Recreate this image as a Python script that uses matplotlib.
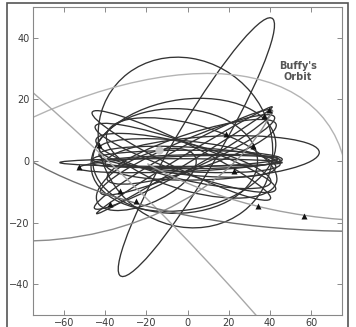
import matplotlib
matplotlib.use("Agg")
import matplotlib.pyplot as plt
from matplotlib.patches import Ellipse, Arc, Rectangle

# closed orbits: centre, full width/height (data units), tilt in degrees
orb_cx = [4.3, -1, 12, -3, -1, -2, -1.5, -2, -6, 0, -1, 1, -8, -4, 0, 0, 2, -2, -20, 2]
orb_cy = [4.5, 6, 1, 1.8, 1, 0.5, 0.25, 2, 0, 0.5, 0, 0.5, -0.5, -1, 1, 2, 3, 0, -6, 1]
orb_w = [111.6, 85, 104, 91, 90, 92, 92, 90, 80, 92, 90, 88, 108, 98, 86, 88, 84, 86, 50, 84]
orb_h = [19, 55, 14, 9, 10, 8, 3, 36, 34, 6, 4, 8, 2.5, 5, 11, 10, 12, 12, 16, 22]
orb_ang = [48.1, -6, 2, -17.8, -13, 20, 22.1, 5, 0, 0, 1, -2, 0, 1.5, -4, 16, 12, -9, 15, -10]

# open trajectories (only part of the ellipse is shown)
arc_cx = [-82, -604.3, -80, 80, 95]
arc_cy = [-62.5, -888.1, 40, 40, 60]
arc_w = [340, 2106, 260, 405, 356]
arc_h = [140, 2106, 132, 125.6, 159]
arc_ang = [22, 0, 0, 0, 0]
arc_t1 = [-4, 50, 258, 186, 208]
arc_t2 = [80, 62, 349, 300, 280]
arc_col = ["#b4b4b4", "#a8a8a8", "#8c8c8c", "#707070", "#a0a0a0"]

# object positions (triangles) and the sun
obj_x = [-43, -52.8, 18.7, 32, 37.3, 39.5, 22.4, 34.1, 56.7, -32.6, -37.8, -25.2]
obj_y = [5.3, -1.8, 8.8, 5.0, 14.7, 16.6, -3.1, -14.7, -17.9, -9.8, -14.1, -12.9]
sun_x = [-14]
sun_y = [3.6]

fig = plt.figure(figsize=(3.56, 3.27), dpi=100)
ax = fig.add_axes([33 / 356, 1 - 315 / 327, 309 / 356, 308 / 327])

for i in range(len(orb_cx)):
    ax.add_patch(Ellipse((orb_cx[i], orb_cy[i]), orb_w[i], orb_h[i], angle=orb_ang[i],
                         fill=False, ec="#333333", lw=0.95))

for i in range(len(arc_cx)):
    ax.add_patch(Arc((arc_cx[i], arc_cy[i]), arc_w[i], arc_h[i], angle=arc_ang[i],
                     theta1=arc_t1[i], theta2=arc_t2[i], ec=arc_col[i], lw=1.0))

ax.plot(sun_x, sun_y, "o", ms=6, color="#c4c4c4", mec="none", zorder=3)
ax.plot(obj_x, obj_y, "^", ms=4, color="#111111", mec="none", zorder=4)

ax.text(53.5, 29, "Buffy's\nOrbit", ha="center", va="center", fontsize=7,
        fontweight="bold", color="#555555", linespacing=1.15)

ax.set_xlim(-75, 75)
ax.set_ylim(-50, 50)
ax.set_xticks([-60, -40, -20, 0, 20, 40, 60])
ax.set_yticks([-40, -20, 0, 20, 40])
ax.tick_params(direction="in", length=3.5, width=0.6, color="#777777", labelsize=7,
               labelcolor="#3a3a3a", pad=2.5, top=True, right=True)
for s in ax.spines.values():
    s.set_color("#888888")
    s.set_linewidth(0.8)

# outer frame around the figure
fig.patches.append(Rectangle((7 / 356, -0.05), 341 / 356, 1.05 - 3 / 327,
                             transform=fig.transFigure, fill=False, ec="#555555", lw=1.2))

fig.savefig("out.png", dpi=100)
